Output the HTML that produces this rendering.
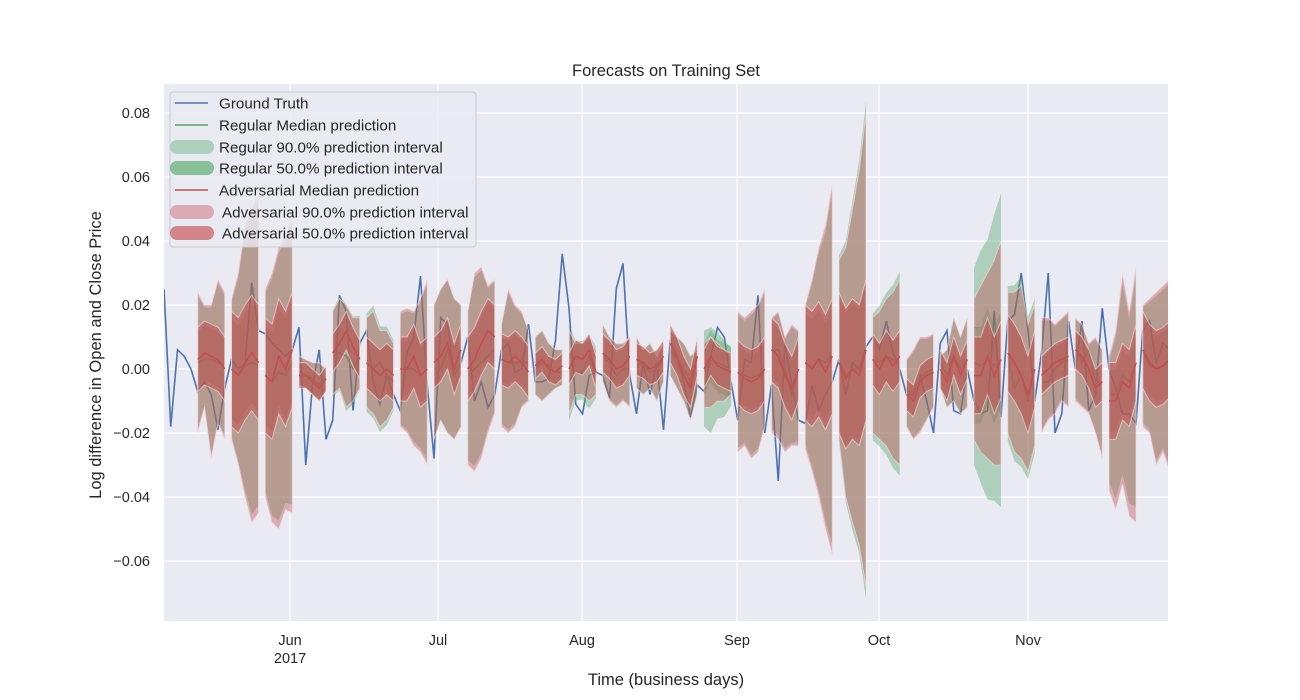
<!DOCTYPE html>
<html><head><meta charset="utf-8"><style>
html,body{margin:0;padding:0;background:#fff;}
svg{display:block;font-family:"Liberation Sans",Arial,sans-serif;}
</style></head><body>
<svg id="chart" width="1300" height="700" viewBox="0 0 1300 700">
<rect x="164" y="84" width="1004" height="537" fill="#eaeaf2"/>
<g id="grid"></g>
<g id="plot"></g>
<g id="axes"></g>
<text x="666" y="76" text-anchor="middle" font-size="16.5" fill="#262626">Forecasts on Training Set</text>
<text x="666" y="685" text-anchor="middle" font-size="16.5" fill="#262626">Time (business days)</text>
<text x="101" y="355" text-anchor="middle" font-size="16.5" fill="#262626" transform="rotate(-90 101 355)">Log difference in Open and Close Price</text>
<g id="legend">
<rect x="170" y="92" width="306" height="155" rx="3" fill="#eaeaf2" fill-opacity="0.8" stroke="#cccccc"/>
<g><line x1="175" y1="103" x2="208" y2="103" stroke="#4c72b0" stroke-width="1.5"/><text x="219" y="108.5" font-size="15.2" fill="#262626">Ground Truth</text></g>
<g><line x1="175" y1="125" x2="208" y2="125" stroke="#55a868" stroke-width="1.5"/><text x="219" y="130.5" font-size="15.2" fill="#262626">Regular Median prediction</text></g>
<g><rect x="170" y="140" width="44" height="14" rx="7" fill="#55a868" fill-opacity="0.4"/><text x="219" y="152.5" font-size="15.2" fill="#262626">Regular 90.0% prediction interval</text></g>
<g><rect x="170" y="161" width="44" height="14" rx="7" fill="#55a868" fill-opacity="0.65"/><text x="219" y="173.5" font-size="15.2" fill="#262626">Regular 50.0% prediction interval</text></g>
<g><line x1="175" y1="190" x2="208" y2="190" stroke="#c44e52" stroke-width="1.5"/><text x="219" y="195.5" font-size="15.2" fill="#262626">Adversarial Median prediction</text></g>
<g><rect x="170" y="205" width="44" height="14" rx="7" fill="#c44e52" fill-opacity="0.4"/><text x="222" y="217.5" font-size="15.2" fill="#262626">Adversarial 90.0% prediction interval</text></g>
<g><rect x="170" y="226" width="44" height="14" rx="7" fill="#c44e52" fill-opacity="0.65"/><text x="222" y="238.5" font-size="15.2" fill="#262626">Adversarial 50.0% prediction interval</text></g>
</g>
</svg>
<script>
const truth=[25,-18,6,4,0,-7,-4,-8,-19,-6,3,0,2,27,12,11,8,6,4,6,13,-30,-5,6,-22,-16,23,18,-13,8,12,-4,-11,-2,-8,-13,5,10,29,-5,-28,16,14,-2,2,10,-10,-4,-12,-8,6,8,-1,0,14,-4,-4,-3,9,36,19,-11,-14,-2,-1,-2,-9,25,33,-2,-14,2,-8,2,-19,9,3,-4,-15,-5,-7,4,13,10,-4,-16,3,2,23,-20,-5,-35,8,-5,-16,-17,-5,-13,-8,-4,3,-8,2,0,7,10,6,15,5,0,-8,-8,-2,-10,-20,8,12,-13,-14,0,-10,-14,-13,18,-15,15,17,30,12,-10,5,30,-20,-14,15,0,15,-13,-8,19,0,-6,-14,-14,-17,12,15,2,8,6];
const advHi=[24,20,20,28,24, 22,30,45,50,55, 25,30,38,42,48, 4,3,2,2,0, 18,22,20,16,16, 16,18,12,12,8, 18,19,18,22,28, 20,25,28,22,20, 18,30,32,26,28, 14,25,20,18,12, 10,12,8,6,6, 12,8,8,10,6, 14,10,8,8,10, 10,6,8,4,8, 12,10,8,4,6, 8,10,8,6,4, 18,16,18,20,25, 16,18,10,14,12, 20,28,38,45,58, 34,38,50,62,80, 16,18,22,24,28, 3,6,10,10,11, 4,6,16,10,16, 22,26,30,34,40, 24,24,26,14,20, 16,16,14,16,18, 16,14,8,10,6, 4,12,30,18,32, 20,22,24,26,28];
const advLo=[-20,-12,-28,-17,-22, -22,-30,-40,-48,-45, -40,-48,-50,-44,-45, -5,-6,-8,-10,-7, -8,-6,-12,-10,-6, -12,-14,-18,-16,-12, -18,-20,-24,-26,-30, -22,-16,-20,-22,-18, -30,-32,-28,-20,-14, -18,-20,-18,-12,-10, -8,-10,-8,-6,-5, -14,-8,-8,-10,-8, -4,-10,-12,-10,-12, -6,-8,-6,-10,-4, -2,-6,-10,-16,-8, -12,-12,-10,-10,-8, -26,-24,-28,-26,-18, -20,-22,-26,-24,-24, -25,-32,-40,-50,-58, -22,-40,-48,-55,-68, -20,-22,-24,-28,-30, -18,-22,-20,-16,-12, -6,-12,-10,-14,-12, -22,-26,-28,-30,-30, -20,-26,-28,-32,-24, -20,-16,-14,-10,-12, -10,-12,-14,-20,-28, -38,-44,-36,-46,-48, -18,-20,-30,-26,-32];
const advMed=[3,5,4,3,0, 0,-2,2,5,2, -2,-4,4,0,6, -2,-2,-4,-6,-3, 5,8,12,7,3, 2,0,-2,0,-2, 0,0,4,-2,0, 2,4,8,0,6, 0,3,8,12,10, 3,2,4,2,-1, 1,3,0,-1,1, 0,4,3,6,-1, 5,3,0,1,4, 3,2,0,1,4, 8,4,-2,-6,4, 0,4,1,0,-1, -1,-3,-4,-3,0, 6,4,-2,-6,0, 2,0,3,-1,4, 2,-3,0,-2,6, 3,0,4,1,4, -8,-10,-4,-2,-1, 0,-4,4,-2,3, -2,-2,4,-2,3, 5,2,-2,-8,0, -2,0,2,3,4, 6,4,0,-6,-4, -10,-10,-4,-6,2, 6,2,0,1,3];
const regMed=[2,3,3,2,1, 0,-2,1,2,1, -2,-4,-1,-2,2, -1,-2,-3,-5,-2, 4,5,4,0,4, 2,0,2,-2,-4, 0,0,0,-2,0, 0,0,6,-2,2, -2,0,2,4,6, 3,2,2,2,2, 0,2,1,-1,-1, -4,-1,-1,4,-2, 4,2,-2,0,0, 1,2,-1,0,3, 6,3,0,-4,4, -1,3,2,1,0, -1,-2,-3,-2,0, 6,6,0,-8,0, 2,0,3,2,5, 3,-2,0,0,5, 3,2,4,3,2, -7,-7,-3,-1,0, 2,-2,4,0,3, 2,1,3,1,3, 4,-6,-2,-10,0, -4,-4,0,2,3, 8,2,6,-4,-4, -8,-8,-2,-4,2, 5,1,0,1,3];
const half50=[10,18,18,4,6,8,10,8,10,8,4,5,6,5,6,6,10,10,18,22,8,5,6,12,12,6,6,12,12];
const regScale=[0.95,0.95,0.95,0.95,1.05,1.1,0.95,1,0.95,0.95,1,1.15,0.95,1,1,1.5,0.95,0.95,0.95,1.05,1.1,0.95,1,1.4,1.1,0.95,0.95,0.9,0.95];
const windowStart=5, windowLen=5, windowStep=5;
const yTicks=[-0.06,-0.04,-0.02,0.00,0.02,0.04,0.06,0.08];
const xTickLabels=["Jun","Jul","Aug","Sep","Oct","Nov"];
const xTickIdx=[18.67,40.59,61.93,84.89,105.93,128.0];

const NS="http://www.w3.org/2000/svg";
const X0=164,X1=1168,Y0=84,Y1=621,STEP=6.75;
const xs=i=>X0+STEP*i;
const ys=v=>369-3200*v;
function mk(tag,attrs,parent){const e=document.createElementNS(NS,tag);for(const k in attrs)e.setAttribute(k,attrs[k]);parent.appendChild(e);return e;}
const grid=document.getElementById('grid'),plot=document.getElementById('plot'),axes=document.getElementById('axes');
const clip=mk('clipPath',{id:'pc'},document.getElementById('chart'));
mk('rect',{x:X0,y:Y0,width:X1-X0,height:Y1-Y0},clip);
plot.setAttribute('clip-path','url(#pc)');
yTicks.forEach(v=>{
  const l=mk('line',{x1:X0,x2:X1,y1:ys(v),y2:ys(v),stroke:'#fff','stroke-width':1.2},grid);
  
  
  const t=mk('text',{x:X0-14,y:ys(v)+5,'text-anchor':'end','font-size':14.5,fill:'#262626'},axes);
  t.textContent=(v<0?'\u2212':'')+Math.abs(v).toFixed(2);
  
  
});
xTickIdx.forEach((ix,j)=>{
  const x=xs(ix);
  const l=mk('line',{x1:x,x2:x,y1:Y0,y2:Y1,stroke:'#fff','stroke-width':1.2},grid);
  
  
  const t=mk('text',{x:x,y:645,'text-anchor':'middle','font-size':14.5,fill:'#262626'},axes);
  t.textContent=xTickLabels[j];
  
  
  if(j===0){const t2=mk('text',{x:x,y:663,'text-anchor':'middle','font-size':14.5,fill:'#262626'},axes);t2.textContent='2017';
  
  }
});
const gt=mk('polyline',{points:truth.map((v,i)=>xs(i)+','+ys(v/1000)).join(' '),fill:'none',stroke:'#4c72b0','stroke-width':1.6},plot);


function band(idx,hi,lo,fill,op,stroke,name){
  const pts=idx.map((ix,j)=>xs(ix)+','+ys(hi[j]/1000)).concat(idx.slice().reverse().map((ix,j)=>xs(ix)+','+ys(lo[lo.length-1-j]/1000)));
  const p=mk('polygon',{points:pts.join(' '),fill:fill,'fill-opacity':op,stroke:stroke||'none','stroke-width':1,'stroke-opacity':0.6},plot);
  
  
}
function line(idx,vals,color,name){
  const p=mk('polyline',{points:idx.map((ix,j)=>xs(ix)+','+ys(vals[j]/1000)).join(' '),fill:'none',stroke:color,'stroke-width':1.6},plot);
  
  
}
for(let k=0;k<half50.length;k++){
  const idx=[],ah=[],al=[],am=[],rm=[];
  for(let j=0;j<windowLen;j++){const n=k*windowLen+j;idx.push(windowStart+k*windowStep+j);ah.push(advHi[n]);al.push(advLo[n]);am.push(advMed[n]);rm.push(regMed[n]);}
  const s=regScale[k],h=half50[k];
  band(idx,ah.map((v,j)=>am[j]+(v-am[j])*s),al.map((v,j)=>am[j]+(v-am[j])*s),'#55a868',0.4,null,'regular-90-band');
  band(idx,am.map(v=>v+h*s*0.9),am.map(v=>v-h*s*0.9),'#55a868',0.4,null,'regular-50-band');
  line(idx,rm,'#55a868','regular-median-line');
  band(idx,ah,al,'#c44e52',0.4,'#f4dede','adversarial-90-band');
  band(idx,am.map(v=>v+h),am.map(v=>v-h),'#c44e52',0.55,'#f6e2e2','adversarial-50-band');
  line(idx,am,'#c44e52','adversarial-median-line');
}
</script>
</body></html>
